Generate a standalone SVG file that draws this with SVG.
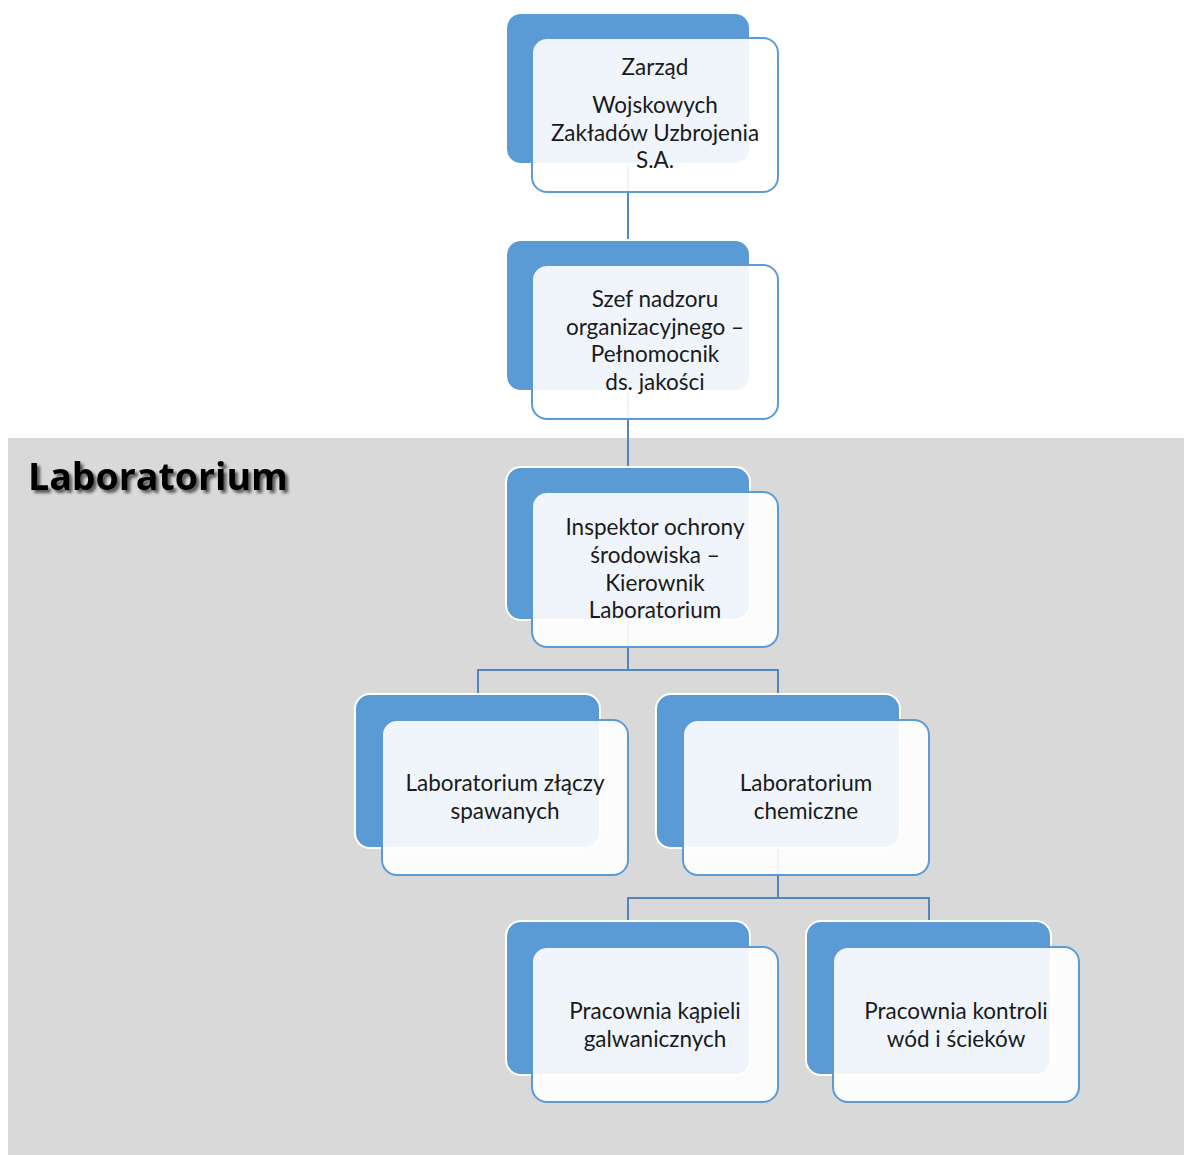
<svg xmlns="http://www.w3.org/2000/svg" width="1184" height="1155" viewBox="0 0 1184 1155">
<defs>
<style>
.back{fill:#5b9bd5;stroke:#ffffff;stroke-width:2}
.front{fill:#ffffff;fill-opacity:0.9;stroke:#5b9bd5;stroke-width:2}
.t{font-family:Lato,"Noto Sans",sans-serif;font-size:22.5px;fill:#1a1a1a;text-anchor:middle}
.conn{fill:none;stroke:#4f86c0;stroke-width:2}
</style>
<filter id="sh" x="-10%" y="-20%" width="130%" height="160%">
<feGaussianBlur in="SourceAlpha" stdDeviation="1.5"/>
<feOffset dx="3" dy="3" result="b"/>
<feComponentTransfer><feFuncA type="linear" slope="0.6"/></feComponentTransfer>
<feMerge><feMergeNode/><feMergeNode in="SourceGraphic"/></feMerge>
</filter>
</defs>
<rect width="1184" height="1155" fill="#ffffff"/>
<rect x="8" y="438" width="1176" height="717" fill="#d9d9d9"/>
<text x="28" y="490" font-family="'Open Sans','Noto Sans',sans-serif" font-weight="bold" font-size="37.5" fill="#000" filter="url(#sh)">Laboratorium</text>
<g id="connectors">
<path class="conn" d="M628 164V240"/>
<path class="conn" d="M628 391V467"/>
<path class="conn" d="M628 620V670M478 694V670H778V694"/>
<path class="conn" d="M778 848V898M628 921V898H929V921"/>
</g>
<g id="n1">
<rect class="back" x="506" y="13" width="244" height="151" rx="15"/>
<rect class="front" x="532" y="38" width="246" height="154" rx="15"/>
<text class="t" x="655" y="75">Zarząd</text>
<text class="t" x="655" y="113">Wojskowych</text>
<text class="t" x="655" y="141">Zakładów Uzbrojenia</text>
<text class="t" x="655" y="168">S.A.</text>
</g>
<g id="n2">
<rect class="back" x="506" y="240" width="244" height="151" rx="15"/>
<rect class="front" x="532" y="265" width="246" height="154" rx="15"/>
<text class="t" x="655" y="307">Szef nadzoru</text>
<text class="t" x="655" y="335">organizacyjnego –</text>
<text class="t" x="655" y="362">Pełnomocnik</text>
<text class="t" x="655" y="390">ds. jakości</text>
</g>
<g id="n3">
<rect class="back" x="506" y="467" width="244" height="153" rx="15"/>
<rect class="front" x="532" y="492" width="246" height="155" rx="15"/>
<text class="t" x="655" y="535">Inspektor ochrony</text>
<text class="t" x="655" y="563">środowiska –</text>
<text class="t" x="655" y="591">Kierownik</text>
<text class="t" x="655" y="618">Laboratorium</text>
</g>
<g id="n4">
<rect class="back" x="355" y="694" width="245" height="154" rx="15"/>
<rect class="front" x="382" y="720" width="246" height="155" rx="15"/>
<text class="t" x="505" y="791">Laboratorium złączy</text>
<text class="t" x="505" y="819">spawanych</text>
</g>
<g id="n5">
<rect class="back" x="656" y="694" width="244" height="154" rx="15"/>
<rect class="front" x="683" y="720" width="246" height="155" rx="15"/>
<text class="t" x="806" y="791">Laboratorium</text>
<text class="t" x="806" y="819">chemiczne</text>
</g>
<g id="n6">
<rect class="back" x="506" y="921" width="244" height="154" rx="15"/>
<rect class="front" x="532" y="947" width="246" height="155" rx="15"/>
<text class="t" x="655" y="1019">Pracownia kąpieli</text>
<text class="t" x="655" y="1047">galwanicznych</text>
</g>
<g id="n7">
<rect class="back" x="806" y="921" width="245" height="154" rx="15"/>
<rect class="front" x="833" y="947" width="246" height="155" rx="15"/>
<text class="t" x="956" y="1019">Pracownia kontroli</text>
<text class="t" x="956" y="1047">wód i ścieków</text>
</g>
</svg>
